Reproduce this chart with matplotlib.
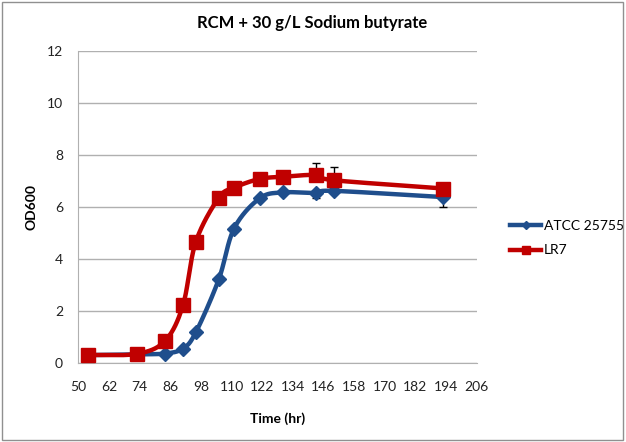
import numpy as np
import matplotlib
matplotlib.use("Agg")
import matplotlib.pyplot as plt
from matplotlib.patches import Rectangle

plt.rcParams['font.family'] = ['Lato', 'DejaVu Sans']

# sampling times (hr)
time_hr = [54, 73, 84, 91, 96, 105, 111, 121, 130, 143, 150, 193]
atcc_od = [0.30, 0.33, 0.36, 0.55, 1.17, 3.21, 5.17, 6.33, 6.56, 6.54, 6.62, 6.38]
atcc_err = [0, 0, 0, 0, 0, 0, 0, 0, 0, 0.2, 0, 0.38]
lr7_od = [0.30, 0.35, 0.85, 2.22, 4.65, 6.35, 6.74, 7.08, 7.16, 7.23, 7.03, 6.71]
lr7_err = [0, 0, 0, 0, 0, 0, 0, 0, 0, 0.45, 0.5, 0]

xticks = list(range(50, 207, 12))
yticks = list(range(0, 13, 2))


def smooth(x, y, n=20):
    # Catmull-Rom style smoothing, like Excel's "smoothed line"
    x = np.asarray(x, float)
    y = np.asarray(y, float)
    px = np.concatenate([[2 * x[0] - x[1]], x, [2 * x[-1] - x[-2]]])
    py = np.concatenate([[2 * y[0] - y[1]], y, [2 * y[-1] - y[-2]]])
    xs, ys = [], []
    t = np.linspace(0, 1, n)
    for i in range(1, len(px) - 2):
        p0, p1, p2, p3 = [np.array([px[j], py[j]]) for j in range(i - 1, i + 3)]
        b1 = p1 + (p2 - p0) / 6
        b2 = p2 - (p3 - p1) / 6
        pts = ((1 - t) ** 3)[:, None] * p1 + (3 * (1 - t) ** 2 * t)[:, None] * b1 \
            + (3 * (1 - t) * t ** 2)[:, None] * b2 + (t ** 3)[:, None] * p2
        xs.extend(pts[:, 0])
        ys.extend(pts[:, 1])
    return xs, ys


blue = '#1f4e8c'
red = '#c00000'

fig = plt.figure(figsize=(6.26, 4.42), dpi=100)
ax = fig.add_axes([0.125, 0.179, 0.6365, 0.7055])

sx, sy = smooth(time_hr, atcc_od)
ax.plot(sx, sy, color=blue, lw=3.2, zorder=3)
ax.errorbar(time_hr, atcc_od, yerr=[atcc_err, [0] * len(atcc_err)], fmt='none',
            ecolor='black', elinewidth=1, capsize=3, zorder=2)
ax.plot(time_hr, atcc_od, 'D', color=blue, ms=7.5, zorder=4)

sx, sy = smooth(time_hr, lr7_od)
ax.plot(sx, sy, color=red, lw=3.2, zorder=5)
ax.errorbar(time_hr, lr7_od, yerr=[[0] * len(lr7_err), lr7_err], fmt='none',
            ecolor='black', elinewidth=1, capsize=3, zorder=4)
ax.plot(time_hr, lr7_od, 's', color=red, ms=10, zorder=6)

# legend handles
ax.plot([], [], color=blue, lw=3.2, marker='D', ms=4, label='ATCC 25755')
ax.plot([], [], color=red, lw=3.2, marker='s', ms=6, label='LR7')
ax.legend(loc='center left', bbox_to_anchor=(1.053, 0.40), frameon=False,
          fontsize=10, handlelength=2.2, labelspacing=0.9, handletextpad=0.2)

ax.set_xlim(50, 206)
ax.set_ylim(0, 12)
ax.set_xticks(xticks)
ax.set_yticks(yticks)
ax.tick_params(length=0, labelsize=10, colors='#222222')
ax.tick_params(axis='x', pad=13)
ax.tick_params(axis='y', pad=11)
ax.grid(axis='y', color='#b0b0b0', lw=1)
ax.set_axisbelow(True)
for s in ['top', 'right']:
    ax.spines[s].set_visible(False)
for s in ['left', 'bottom']:
    ax.spines[s].set_color('#b0b0b0')

ax.set_xlabel('Time (hr)', fontweight='bold', fontsize=10, labelpad=14)
ax.set_ylabel('OD600', fontweight='bold', fontsize=10, labelpad=7)
fig.text(0.498, 0.948, 'RCM + 30 g/L Sodium butyrate', ha='center', va='center',
         fontweight='bold', fontsize=12)

fig.patches.append(Rectangle((0.003, 0.004), 0.993, 0.991, transform=fig.transFigure,
                             fill=False, edgecolor='#909090', lw=1))

fig.savefig('out.png', dpi=100)
